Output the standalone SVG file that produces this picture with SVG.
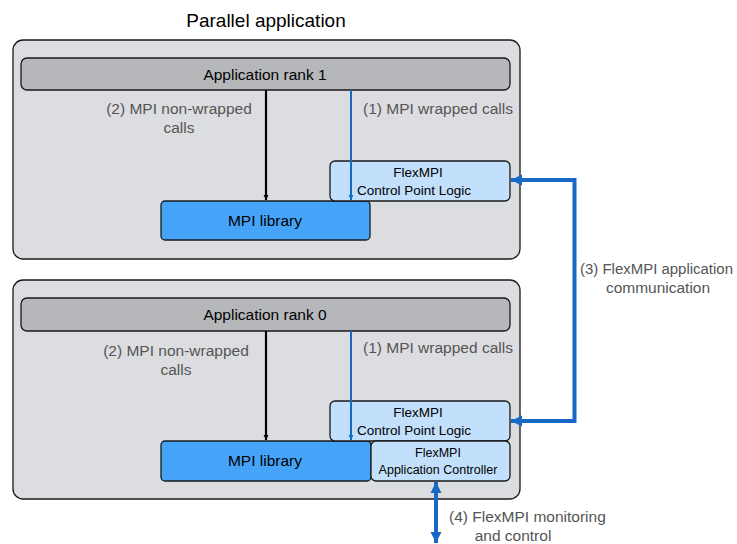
<svg xmlns="http://www.w3.org/2000/svg" width="737" height="544" viewBox="0 0 737 544">
<style>
.outer{fill:#dcdde0;stroke:#1a1a1a;stroke-width:1.3}
.rank{fill:#b6b7bb;stroke:#1a1a1a;stroke-width:1.3}
.lib{fill:#45a4f7;stroke:#1a1a1a;stroke-width:1.3}
.flex{fill:#c2e0fb;stroke:#1a1a1a;stroke-width:1.3}
text{font-family:"Liberation Sans",Arial,sans-serif;fill:#000}
.lbl{font-size:15.5px;fill:#555}
.nl{font-size:15.5px;text-anchor:middle}
.title{font-size:19px;text-anchor:middle}
</style>
<defs>
<marker id="ab" viewBox="0 0 10 10" refX="10" refY="5" markerWidth="5" markerHeight="6" orient="auto" markerUnits="userSpaceOnUse"><path d="M0,0 L10,5 L0,10 z" fill="#000"/></marker>
<marker id="abl" viewBox="0 0 10 10" refX="10" refY="5" markerWidth="5" markerHeight="6" orient="auto" markerUnits="userSpaceOnUse"><path d="M0,0 L10,5 L0,10 z" fill="#1769c5"/></marker>
<marker id="abig" viewBox="0 0 10 10" refX="10" refY="5" markerWidth="11" markerHeight="12" orient="auto-start-reverse" markerUnits="userSpaceOnUse"><path d="M0,0 L10,5 L0,10 z" fill="#1769c5"/></marker>
</defs>
<text class="title" x="266" y="27">Parallel application</text>
<g id="group1">
<rect class="outer" x="13" y="40" width="507" height="219" rx="10"/>
</g>
<g id="group0">
<rect class="outer" x="13" y="280" width="507" height="219" rx="10"/>
</g>
<g id="rank1">
<rect class="rank" x="21" y="58" width="489" height="32" rx="6"/>
<text class="nl" x="265" y="80">Application rank 1</text>
</g>
<g id="lib1">
<rect class="lib" x="161" y="201" width="209" height="39" rx="4"/>
<text class="nl" x="265" y="226">MPI library</text>
</g>
<g id="cpl1">
<rect class="flex" x="330" y="161" width="180" height="40" rx="5"/>
<text class="nl" x="418" y="177" style="font-size:13.5px">FlexMPI</text>
<text class="nl" x="414" y="195" style="font-size:13.5px">Control Point Logic</text>
</g>
<g id="rank0">
<rect class="rank" x="21" y="298" width="489" height="33" rx="6"/>
<text class="nl" x="265" y="320">Application rank 0</text>
</g>
<g id="lib0">
<rect class="lib" x="161" y="441" width="210" height="40" rx="4"/>
<text class="nl" x="265" y="466">MPI library</text>
</g>
<g id="cpl0">
<rect class="flex" x="330" y="401" width="180" height="40" rx="5"/>
<text class="nl" x="418" y="417" style="font-size:13.5px">FlexMPI</text>
<text class="nl" x="414" y="435" style="font-size:13.5px">Control Point Logic</text>
</g>
<g id="ctrl0">
<rect class="flex" x="371" y="441" width="139" height="40" rx="5"/>
<text class="nl" x="438" y="457" style="font-size:12.5px">FlexMPI</text>
<text class="nl" x="438" y="474" style="font-size:12.5px">Application Controller</text>
</g>
<g id="connectors">
<line x1="266" y1="90" x2="266" y2="200" stroke="#000" stroke-width="2.2" marker-end="url(#ab)"/>
<line x1="351" y1="90" x2="351" y2="200" stroke="#1769c5" stroke-width="2" marker-end="url(#abl)"/>
<line x1="266" y1="331" x2="266" y2="440" stroke="#000" stroke-width="2.2" marker-end="url(#ab)"/>
<line x1="351" y1="331" x2="351" y2="440" stroke="#1769c5" stroke-width="2" marker-end="url(#abl)"/>
<path d="M511,180 H574.5 V421 H511" fill="none" stroke="#1769c5" stroke-width="4" marker-start="url(#abig)" marker-end="url(#abig)"/>
<line x1="436" y1="482" x2="436" y2="543" stroke="#1769c5" stroke-width="4" marker-start="url(#abig)" marker-end="url(#abig)"/>
</g>
<g id="labels">
<text class="lbl" x="179" y="114" text-anchor="middle">(2) MPI non-wrapped</text>
<text class="lbl" x="179" y="133" text-anchor="middle">calls</text>
<text class="lbl" x="363" y="114">(1) MPI wrapped calls</text>
<text class="lbl" x="176" y="356" text-anchor="middle">(2) MPI non-wrapped</text>
<text class="lbl" x="176" y="375" text-anchor="middle">calls</text>
<text class="lbl" x="363" y="353">(1) MPI wrapped calls</text>
<text class="lbl" x="580" y="274" textLength="153" lengthAdjust="spacingAndGlyphs">(3) FlexMPI application</text>
<text class="lbl" x="658" y="293" text-anchor="middle">communication</text>
<text class="lbl" x="449" y="522">(4) FlexMPI monitoring</text>
<text class="lbl" x="513" y="541" text-anchor="middle">and control</text>
</g>
</svg>
